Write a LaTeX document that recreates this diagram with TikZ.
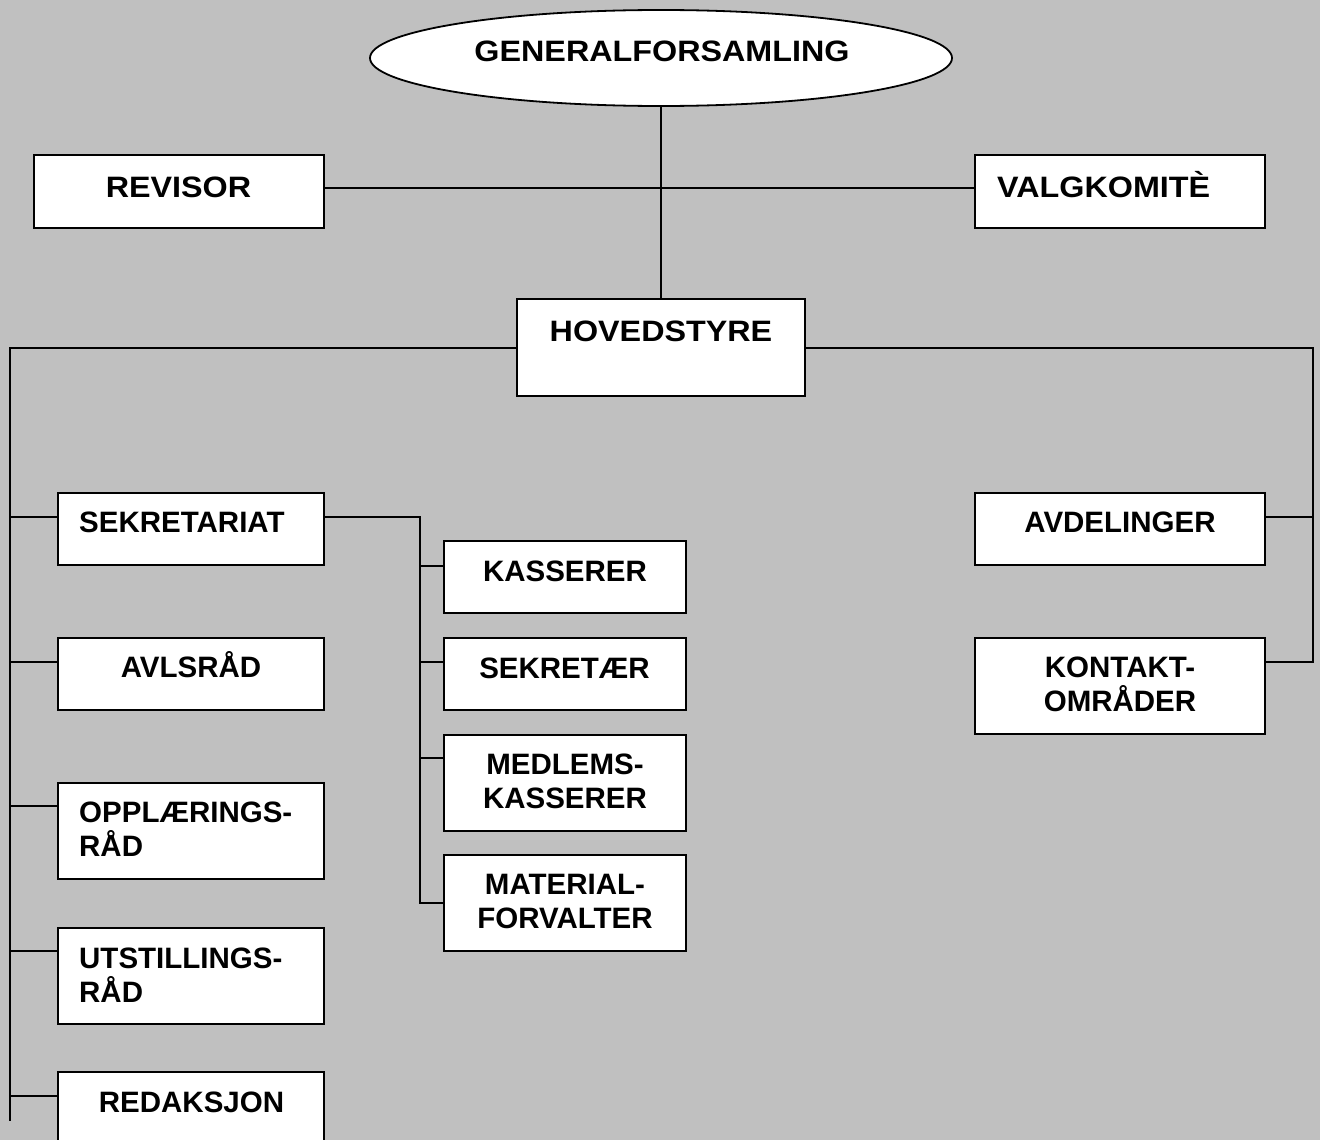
\documentclass[tikz,border=0pt]{standalone}
\usepackage{fontspec}
\setmainfont{Liberation Sans}
\usetikzlibrary{shapes.geometric}
\definecolor{bg}{HTML}{C0C0C0}
\newcommand{\widetxt}[1]{\scalebox{1.095}[1]{#1}}
\tikzset{
  box/.style={draw=black, fill=white, line width=1.8pt, rectangle, inner sep=0pt},
  oval/.style={draw=black, fill=white, line width=1.8pt, ellipse, inner sep=0pt},
  txt/.style={font=\fontsize{29.5}{34}\selectfont\bfseries, inner sep=0pt, align=center},
  txtl/.style={font=\fontsize{29.5}{34}\selectfont\bfseries, inner sep=0pt, align=left},
  conn/.style={draw=black, line width=1.5pt},
}
\begin{document}
\begin{tikzpicture}[x=1pt,y=-1pt]
\fill[bg] (0,0) rectangle (1320,1140);
\useasboundingbox (0,0) rectangle (1320,1140);
% nodes (boxes)
\node[oval, minimum width=582, minimum height=96] (ga) at (661,58) {};
\node[box, minimum width=290, minimum height=73] (rev) at (179,191.5) {};
\node[box, minimum width=290, minimum height=73] (valg) at (1120,191.5) {};
\node[box, minimum width=288, minimum height=97] (hov) at (661,347.5) {};
\node[box, minimum width=266, minimum height=72] (sek) at (191,529) {};
\node[box, minimum width=266, minimum height=72] (avl) at (191,674) {};
\node[box, minimum width=266, minimum height=96] (opp) at (191,831) {};
\node[box, minimum width=266, minimum height=96] (uts) at (191,976) {};
\node[box, minimum width=266, minimum height=96] (red) at (191,1120) {};
\node[box, minimum width=242, minimum height=72] (kas) at (565,577) {};
\node[box, minimum width=242, minimum height=72] (skr) at (565,674) {};
\node[box, minimum width=242, minimum height=96] (med) at (565,783) {};
\node[box, minimum width=242, minimum height=96] (mat) at (565,903) {};
\node[box, minimum width=290, minimum height=72] (avd) at (1120,529) {};
\node[box, minimum width=290, minimum height=96] (kon) at (1120,686) {};
% texts
\node[txt, anchor=base] (ga-t) at (662,62) {\widetxt{GENERALFORSAMLING}};
\node[txt, anchor=base] (rev-t) at (178.5,197) {\widetxt{REVISOR}};
\node[txtl, anchor=base west] (valg-t) at (997,197) {\widetxt{VALGKOMITÈ}};
\node[txt, anchor=base] (hov-t) at (661,341) {\widetxt{HOVEDSTYRE}};
\node[txtl, anchor=base west] (sek-t) at (79,532) {SEKRETARIAT};
\node[txt, anchor=base] (avl-t) at (191,677) {AVLSRÅD};
\node[txtl, anchor=base west] (opp-t) at (79,856) {OPPLÆRINGS-\\RÅD};
\node[txtl, anchor=base west] (uts-t) at (79,1002) {UTSTILLINGS-\\RÅD};
\node[txt, anchor=base] (red-t) at (191.5,1112) {REDAKSJON};
\node[txt, anchor=base] (kas-t) at (565,581) {KASSERER};
\node[txt, anchor=base] (skr-t) at (564.5,678) {SEKRETÆR};
\node[txt, anchor=base] (med-t) at (565,808) {MEDLEMS-\\KASSERER};
\node[txt, anchor=base] (mat-t) at (565,928) {MATERIAL-\\FORVALTER};
\node[txt, anchor=base] (avd-t) at (1120,532) {AVDELINGER};
\node[txt, anchor=base] (kon-t) at (1120,711) {KONTAKT-\\OMRÅDER};
% junction coordinates
\coordinate (j1) at (662,188);
\coordinate (lt) at (10,348);
\coordinate (lb) at (10,1121);
\coordinate (rt) at (1313,348);
\coordinate (rb) at (1313,662);
\coordinate (st) at (420,517);
\coordinate (sb) at (420,903);
% connectors
\draw[conn] (ga.south) -- (hov.north);
\draw[conn] (rev.east |- j1) -- (valg.west |- j1);
\draw[conn] (hov.west |- lt) -- (lt) -- (lb);
\draw[conn] (hov.east |- rt) -- (rt) -- (rb) -- (kon.east |- rb);
\draw[conn] (10,517) -- (sek.west |- 0,517);
\draw[conn] (10,662) -- (avl.west |- 0,662);
\draw[conn] (10,806) -- (opp.west |- 0,806);
\draw[conn] (10,951) -- (uts.west |- 0,951);
\draw[conn] (10,1096) -- (red.west |- 0,1096);
\draw[conn] (sek.east |- st) -- (st) -- (sb) -- (mat.west |- sb);
\draw[conn] (420,566) -- (kas.west |- 0,566);
\draw[conn] (420,662) -- (skr.west |- 0,662);
\draw[conn] (420,758) -- (med.west |- 0,758);
\draw[conn] (avd.east |- 0,517) -- (1313,517);
\end{tikzpicture}
\end{document}
